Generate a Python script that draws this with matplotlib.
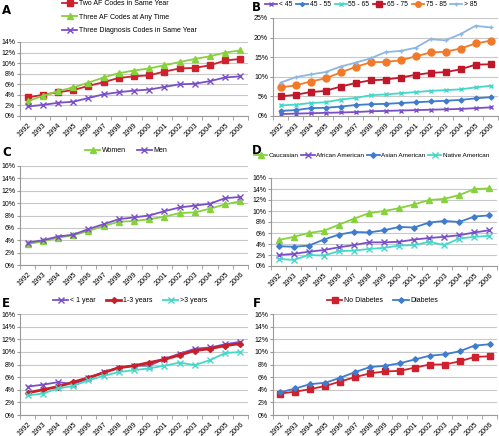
"""
Six-panel AF prevalence trend chart, 1992-2006.
"""

import matplotlib.pyplot as plt
from matplotlib.ticker import FuncFormatter, MultipleLocator
import numpy as np

years = [str(y) for y in range(1992, 2007)]

# Panel A - case definitions
a_two_af = [3.5, 4.0, 4.5, 4.9, 5.7, 6.4, 7.2, 7.5, 7.7, 8.4, 9.0, 9.1, 9.6, 10.5, 10.8]
a_three_af = [2.8, 3.8, 4.7, 5.4, 6.3, 7.3, 8.1, 8.6, 9.0, 9.6, 10.2, 10.8, 11.3, 12.0, 12.4]
a_three_dx = [1.8, 2.1, 2.5, 2.7, 3.4, 4.1, 4.5, 4.8, 5.0, 5.5, 6.0, 6.1, 6.6, 7.3, 7.5]

# Panel B - age groups
b_lt45 = [0.5, 0.6, 0.7, 0.8, 0.9, 1.0, 1.2, 1.3, 1.4, 1.5, 1.6, 1.7, 1.8, 2.0, 2.2]
b_45_55 = [1.3, 1.5, 2.0, 2.1, 2.4, 2.8, 3.0, 3.1, 3.3, 3.5, 3.7, 3.9, 4.1, 4.5, 4.8]
b_55_65 = [2.7, 2.9, 3.3, 3.5, 4.2, 4.6, 5.3, 5.5, 5.8, 6.1, 6.4, 6.6, 6.8, 7.3, 7.7]
b_65_75 = [5.0, 5.4, 6.1, 6.4, 7.5, 8.4, 9.1, 9.3, 9.8, 10.5, 11.0, 11.2, 11.9, 13.1, 13.2]
b_75_85 = [7.3, 7.8, 8.8, 9.6, 11.1, 12.5, 13.7, 13.8, 14.2, 15.2, 16.2, 16.4, 17.2, 18.5, 19.2]
b_gt85 = [8.5, 9.9, 10.6, 11.2, 12.6, 13.6, 14.7, 16.3, 16.6, 17.4, 19.6, 19.3, 20.9, 23.0, 22.6]

# Panel C - sex
c_women = [3.4, 3.8, 4.4, 4.8, 5.5, 6.3, 7.0, 7.1, 7.4, 7.8, 8.4, 8.5, 9.1, 9.8, 10.3]
c_men = [3.6, 4.0, 4.6, 4.9, 5.8, 6.6, 7.4, 7.7, 8.0, 8.7, 9.3, 9.6, 9.9, 10.8, 11.0]

# Panel D - race
d_caucasian = [4.7, 5.3, 6.0, 6.4, 7.5, 8.6, 9.6, 10.0, 10.5, 11.2, 12.0, 12.2, 12.9, 14.0, 14.1]
d_african = [2.0, 2.2, 2.6, 2.9, 3.4, 3.8, 4.3, 4.3, 4.4, 4.8, 5.1, 5.3, 5.6, 6.1, 6.5]
d_asian = [3.6, 3.5, 3.7, 4.8, 5.7, 6.2, 6.1, 6.5, 7.1, 7.0, 7.9, 8.2, 8.0, 9.0, 9.2]
d_native = [1.3, 1.1, 2.0, 1.9, 2.7, 2.8, 3.1, 3.3, 3.7, 3.8, 4.4, 3.8, 5.0, 5.3, 5.5]

# Panel E - duration
e_lt1 = [4.5, 4.8, 5.2, 4.9, 5.8, 6.8, 7.5, 7.8, 7.8, 8.9, 9.7, 10.5, 10.7, 11.2, 11.6]
e_1_3 = [3.5, 4.0, 4.5, 5.2, 5.9, 6.7, 7.5, 7.8, 8.3, 8.8, 9.5, 10.2, 10.5, 11.0, 11.3]
e_gt3 = [3.1, 3.4, 4.2, 4.6, 5.5, 6.2, 6.8, 7.1, 7.4, 7.8, 8.3, 7.9, 8.7, 9.8, 10.0]

# Panel F - diabetes
f_no_diab = [3.4, 3.7, 4.1, 4.6, 5.3, 6.0, 6.6, 6.9, 7.0, 7.5, 8.0, 8.0, 8.5, 9.2, 9.3]
f_diab = [3.6, 4.2, 4.9, 5.1, 5.9, 6.8, 7.6, 7.8, 8.2, 8.8, 9.4, 9.6, 10.1, 11.0, 11.2]

RED = '#d0202e'
GREEN = '#86d13c'
PURPLE = '#7a4fc8'
BLUE = '#3f7ccc'
TEAL = '#45d8c8'
ORANGE = '#f07a2a'
LIGHTBLUE = '#8db6e4'

plt.rcParams['font.family'] = 'Liberation Sans'
FS = 5

W, H = 499, 436
fig = plt.figure(figsize=(W / 100, H / 100), dpi=100)


def px_axes(x0, y0, x1, y1):
    """Create axes from pixel box (top-left origin)."""
    return fig.add_axes([x0 / W, 1 - y1 / H, (x1 - x0) / W, (y1 - y0) / H])


def style_axes(ax, ymax, step):
    x = np.arange(len(years))
    ax.set_xlim(-0.5, len(years) - 0.5)
    ax.set_ylim(0, ymax)
    ax.yaxis.set_major_locator(MultipleLocator(step))
    ax.yaxis.set_major_formatter(FuncFormatter(lambda v, p: f'{v:.0f}%'))
    ax.set_xticks(x)
    ax.set_xticklabels(years, rotation=45, ha='right', rotation_mode='anchor', fontsize=FS + 0.3)
    ax.set_xticks(np.arange(-0.5, len(years)), minor=True)
    ax.tick_params(axis='x', which='major', length=0, pad=4)
    ax.tick_params(axis='x', which='minor', length=3, color='#999999')
    ax.tick_params(axis='y', labelsize=FS, length=2.5, color='#999999', pad=1)
    ax.grid(axis='y', color='#c8c8c8', linewidth=0.8)
    ax.set_axisbelow(True)
    for side in ['top', 'right']:
        ax.spines[side].set_visible(False)
    for side in ['left', 'bottom']:
        ax.spines[side].set_color('#999999')
        ax.spines[side].set_linewidth(0.8)


def series(ax, values, color, marker, label, ms=4, lw=1.3):
    ax.plot(np.arange(len(values)), values, color=color, marker=marker,
            markersize=ms, linewidth=lw, label=label, markeredgewidth=1)


def legend(ax, x, y, ncol, **kw):
    opts = dict(loc='upper left', bbox_to_anchor=(x / W, 1 - y / H),
                bbox_transform=fig.transFigure, ncol=ncol, frameon=False,
                fontsize=FS, handlelength=2.2, handletextpad=0.25,
                columnspacing=1.0, borderaxespad=0, borderpad=0)
    opts.update(kw)
    ax.legend(**opts)


# Panel A
ax = px_axes(20, 42, 248, 116)
series(ax, a_two_af, RED, 's', 'Two AF Codes in Same Year')
series(ax, a_three_af, GREEN, '^', 'Three AF Codes at Any Time')
series(ax, a_three_dx, PURPLE, 'x', 'Three Diagnosis Codes in Same Year')
style_axes(ax, 14, 2)
legend(ax, 62, 0, 1, labelspacing=0.95)
fig.text(2 / W, 1 - 4 / H, 'A', fontsize=8.5, fontweight='bold', va='top',
         family='DejaVu Sans')

# Panel B
ax = px_axes(273, 18, 498, 116)
series(ax, b_lt45, PURPLE, 'x', '< 45', ms=3.5)
series(ax, b_45_55, BLUE, 'D', '45 - 55', ms=2.5)
series(ax, b_55_65, TEAL, 'x', '55 - 65', ms=3.5)
series(ax, b_65_75, '#c0182a', 's', '65 - 75', ms=5)
series(ax, b_75_85, ORANGE, 'o', '75 - 85', ms=5)
series(ax, b_gt85, LIGHTBLUE, '+', '> 85', ms=3.5)
style_axes(ax, 25, 5)
legend(ax, 265, 1, 6, fontsize=4.8, handlelength=1.8, columnspacing=0.6,
       markerscale=0.8)
fig.text(252 / W, 1 - 1 / H, 'B', fontsize=8.5, fontweight='bold', va='top',
         family='DejaVu Sans')

# Panel C
ax = px_axes(20, 166, 248, 265)
series(ax, c_women, GREEN, '^', 'Women')
series(ax, c_men, PURPLE, 'x', 'Men')
style_axes(ax, 16, 2)
legend(ax, 85, 147, 2, columnspacing=1.5)
fig.text(2 / W, 1 - 146 / H, 'C', fontsize=8.5, fontweight='bold', va='top',
         family='DejaVu Sans')

# Panel D
ax = px_axes(271, 178, 497, 266)
series(ax, d_caucasian, GREEN, '^', 'Caucasian')
series(ax, d_african, PURPLE, 'x', 'African American')
series(ax, d_asian, BLUE, 'D', 'Asian American', ms=2.8)
series(ax, d_native, TEAL, 'x', 'Native American')
style_axes(ax, 16, 2)
legend(ax, 254, 153, 4, fontsize=4.6, handlelength=2.1, columnspacing=0.4,
       handletextpad=0.2)
fig.text(252 / W, 1 - 144 / H, 'D', fontsize=8.5, fontweight='bold', va='top',
         family='DejaVu Sans')

# Panel E
ax = px_axes(20, 314, 248, 415)
series(ax, e_lt1, PURPLE, 'x', '< 1 year')
series(ax, e_1_3, '#c8202a', 'D', '1-3 years', ms=3, lw=2)
series(ax, e_gt3, TEAL, 'x', '>3 years')
style_axes(ax, 16, 2)
legend(ax, 53, 297, 3, columnspacing=1.5)
fig.text(2 / W, 1 - 297 / H, 'E', fontsize=8.5, fontweight='bold', va='top',
         family='DejaVu Sans')

# Panel F
ax = px_axes(273, 314, 497, 415)
series(ax, f_no_diab, RED, 's', 'No Diabetes', ms=4)
series(ax, f_diab, BLUE, 'D', 'Diabetes', ms=2.8)
style_axes(ax, 16, 2)
legend(ax, 327, 297, 2, columnspacing=1.5)
fig.text(253 / W, 1 - 297 / H, 'F', fontsize=8.5, fontweight='bold', va='top',
         family='DejaVu Sans')

fig.savefig('out.png', dpi=100)
